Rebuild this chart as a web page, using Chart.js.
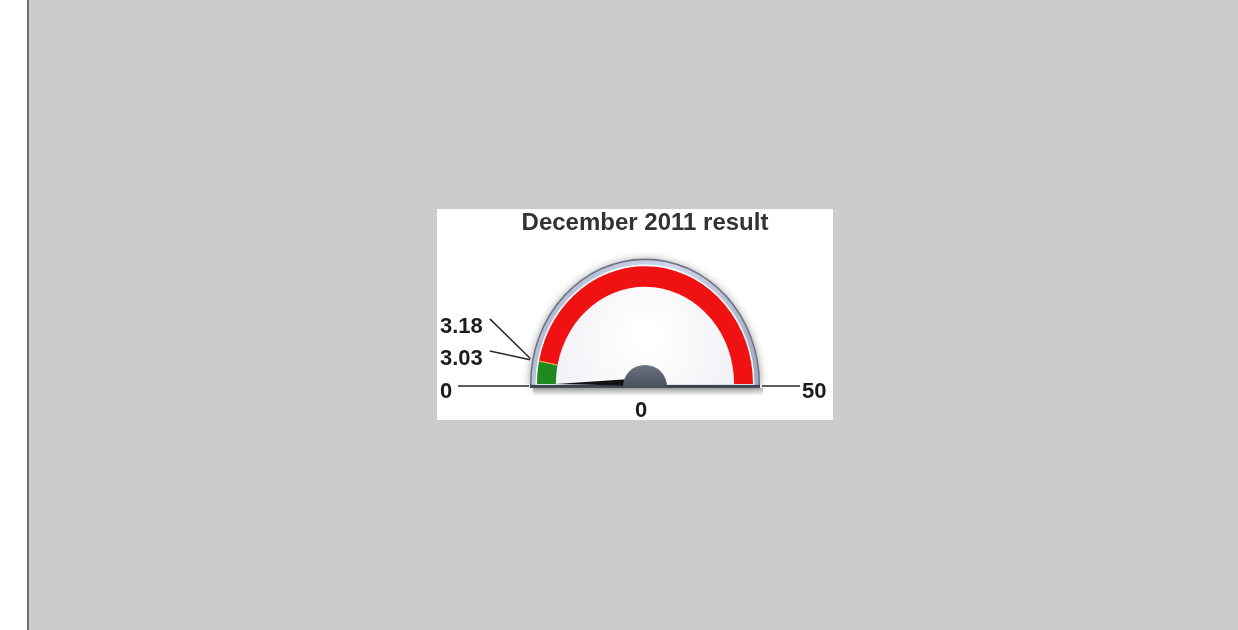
<!DOCTYPE html>
<html>
<head>
<meta charset="utf-8">
<script src="https://cdn.jsdelivr.net/npm/chart.js@4.4.0/dist/chart.umd.min.js"></script>
<style>
    html, body { margin: 0; padding: 0; width: 1238px; height: 630px; overflow: hidden; background: #cccccc; }
    #strip { position: absolute; left: 0; top: 0; width: 27px; height: 630px; background: #ffffff; border-right: 2px solid #6e6e6e; }
    #box { position: absolute; left: 437px; top: 209px; width: 396px; height: 211px; background: #ffffff; }
</style>
</head>
<body>
<div id="strip"></div>
<div id="box"><canvas id="gauge" width="396" height="211"></canvas></div>
<script>
// gauge data
const chartTitle = 'December 2011 result';
const gaugeMin = 0;
const gaugeMax = 50;
const bandLimits = [0, 3.03, 3.18, 50];
const bandColors = ['#1f8a1f', '#e89a2a', '#f01212'];
const currentValue = 0;
const minLabel = '0';
const maxLabel = '50';
const valueLabel = '0';

const bandSizes = [];
for (let i = 1; i < bandLimits.length; i++) {
    bandSizes.push(bandLimits[i] - bandLimits[i - 1]);
}

const SY = 1.09; // the original gauge is a bit taller than wide
const LABEL_FONT = 'bold 22px "Liberation Sans", Arial, sans-serif';

function halfDisk(ctx, cx, cy, rad, extra) {
    ctx.beginPath();
    ctx.moveTo(cx - rad, cy + extra);
    ctx.arc(cx, cy, rad, Math.PI, 2 * Math.PI);
    ctx.lineTo(cx + rad, cy + extra);
    ctx.closePath();
}

function valueAngle(v) {
    return Math.PI + (v - gaugeMin) / (gaugeMax - gaugeMin) * Math.PI;
}

const gaugeDecor = {
    id: 'gaugeDecor',
    beforeDatasetsDraw(chart) {
        const ctx = chart.ctx;
        const arc = chart.getDatasetMeta(0).data[0];
        const cx = arc.x, cy = arc.y, R = arc.outerRadius;

        ctx.save();
        ctx.translate(cx, cy);
        ctx.scale(1, SY);
        ctx.translate(-cx, -cy);

        // bezel with soft shadow
        ctx.save();
        ctx.shadowColor = 'rgba(0, 0, 0, 0.4)';
        ctx.shadowBlur = 9;
        ctx.shadowOffsetY = 1;
        halfDisk(ctx, cx, cy, R + 7, 2);
        ctx.fillStyle = '#6c7282';
        ctx.fill();
        ctx.restore();

        halfDisk(ctx, cx, cy, R + 5.5, 2);
        const g = ctx.createLinearGradient(cx - R, cy - R, cx + R, cy);
        g.addColorStop(0, '#aab4d0');
        g.addColorStop(0.5, '#cfd6ea');
        g.addColorStop(1, '#a3abc2');
        ctx.fillStyle = g;
        ctx.fill();

        halfDisk(ctx, cx, cy, R + 1.5, 2);
        ctx.fillStyle = '#ffffff';
        ctx.fill();

        // face
        halfDisk(ctx, cx, cy, R, 2);
        const f = ctx.createRadialGradient(cx, cy - R * 0.4, 10, cx, cy - R * 0.3, R);
        f.addColorStop(0, '#ffffff');
        f.addColorStop(1, '#eeeff4');
        ctx.fillStyle = f;
        ctx.fill();
        // leave the scale on while the band arcs are drawn
    },
    afterDatasetsDraw(chart) {
        const ctx = chart.ctx;
        const arc = chart.getDatasetMeta(0).data[0];
        const cx = arc.x, cy = arc.y, R = arc.outerRadius, r = arc.innerRadius;
        ctx.restore();

        // base bar and its shadow
        const sh = ctx.createLinearGradient(0, cy + 4, 0, cy + 12);
        sh.addColorStop(0, 'rgba(0,0,0,0.28)');
        sh.addColorStop(1, 'rgba(0,0,0,0)');
        ctx.fillStyle = sh;
        ctx.fillRect(cx - R - 4, cy + 4, 2 * R + 14, 8);
        ctx.fillStyle = '#3d4250';
        ctx.fillRect(cx - R - 7, cy + 1, 2 * R + 14, 3);

        // needle
        const a = valueAngle(currentValue);
        const tx = cx + Math.cos(a) * r;
        const ty = cy + Math.sin(a) * r * SY;
        const px = -Math.sin(a), py = Math.cos(a);
        ctx.beginPath();
        ctx.moveTo(tx, ty);
        ctx.lineTo(cx + px * 4, cy + py * 4 - 2);
        ctx.lineTo(cx - px * 4, cy - py * 4 - 2);
        ctx.closePath();
        ctx.fillStyle = '#111111';
        ctx.fill();

        // hub
        ctx.beginPath();
        ctx.moveTo(cx - 22, cy + 3);
        ctx.arc(cx, cy + 3, 22, Math.PI, 2 * Math.PI);
        ctx.closePath();
        const hg = ctx.createLinearGradient(0, cy - 19, 0, cy + 3);
        hg.addColorStop(0, '#6e7384');
        hg.addColorStop(1, '#4a4f5e');
        ctx.fillStyle = hg;
        ctx.fill();

        ctx.font = LABEL_FONT;
        ctx.fillStyle = '#1c1c1c';
        ctx.strokeStyle = '#2a2a2a';
        ctx.lineWidth = 1.5;
        ctx.textBaseline = 'alphabetic';

        // min / max labels with ticks
        ctx.textAlign = 'left';
        ctx.fillText(minLabel, 3, cy + 14);
        ctx.beginPath();
        ctx.moveTo(21, cy + 2);
        ctx.lineTo(cx - R - 8, cy + 2);
        ctx.stroke();

        ctx.fillText(maxLabel, cx + R + 49, cy + 14);
        ctx.beginPath();
        ctx.moveTo(cx + R + 9, cy + 2);
        ctx.lineTo(cx + R + 47, cy + 2);
        ctx.stroke();

        // band limit labels with leader lines
        const inner = bandLimits.slice(1, -1);
        inner.forEach((v, k) => {
            const base = cy - 19 - 32 * k;
            const txt = v.toFixed(2);
            ctx.fillText(txt, 3, base);
            const w = ctx.measureText(txt).width;
            const la = valueAngle(v);
            ctx.beginPath();
            ctx.moveTo(3 + w + 7, base - 14);
            ctx.lineTo(cx + Math.cos(la) * (R + 9), cy + Math.sin(la) * (R + 9) * SY);
            ctx.stroke();
        });

        // current value
        ctx.textAlign = 'center';
        ctx.font = 'bold 22px "Liberation Sans", Arial, sans-serif';
        ctx.fillText(valueLabel, cx - 4, cy + 33);
    }
};

new Chart(document.getElementById('gauge'), {
    type: 'doughnut',
    data: {
        labels: ['0 - 3.03', '3.03 - 3.18', '3.18 - 50'],
        datasets: [{
            data: bandSizes,
            backgroundColor: bandColors,
            borderWidth: 0,
            clip: false
        }]
    },
    options: {
        responsive: false,
        animation: false,
        events: [],
        rotation: -90,
        circumference: 180,
        radius: 108,
        cutout: '82.5%',
        layout: { padding: { left: 40, right: 20, top: 0, bottom: 36 } },
        plugins: {
            legend: { display: false },
            tooltip: { enabled: false },
            title: {
                display: true,
                text: chartTitle,
                color: '#333333',
                font: { family: '"Liberation Sans", Arial, sans-serif', size: 24, weight: 'bold' },
                padding: { top: 0, bottom: 38 }
            }
        }
    },
    plugins: [gaugeDecor]
});
</script>
</body>
</html>
